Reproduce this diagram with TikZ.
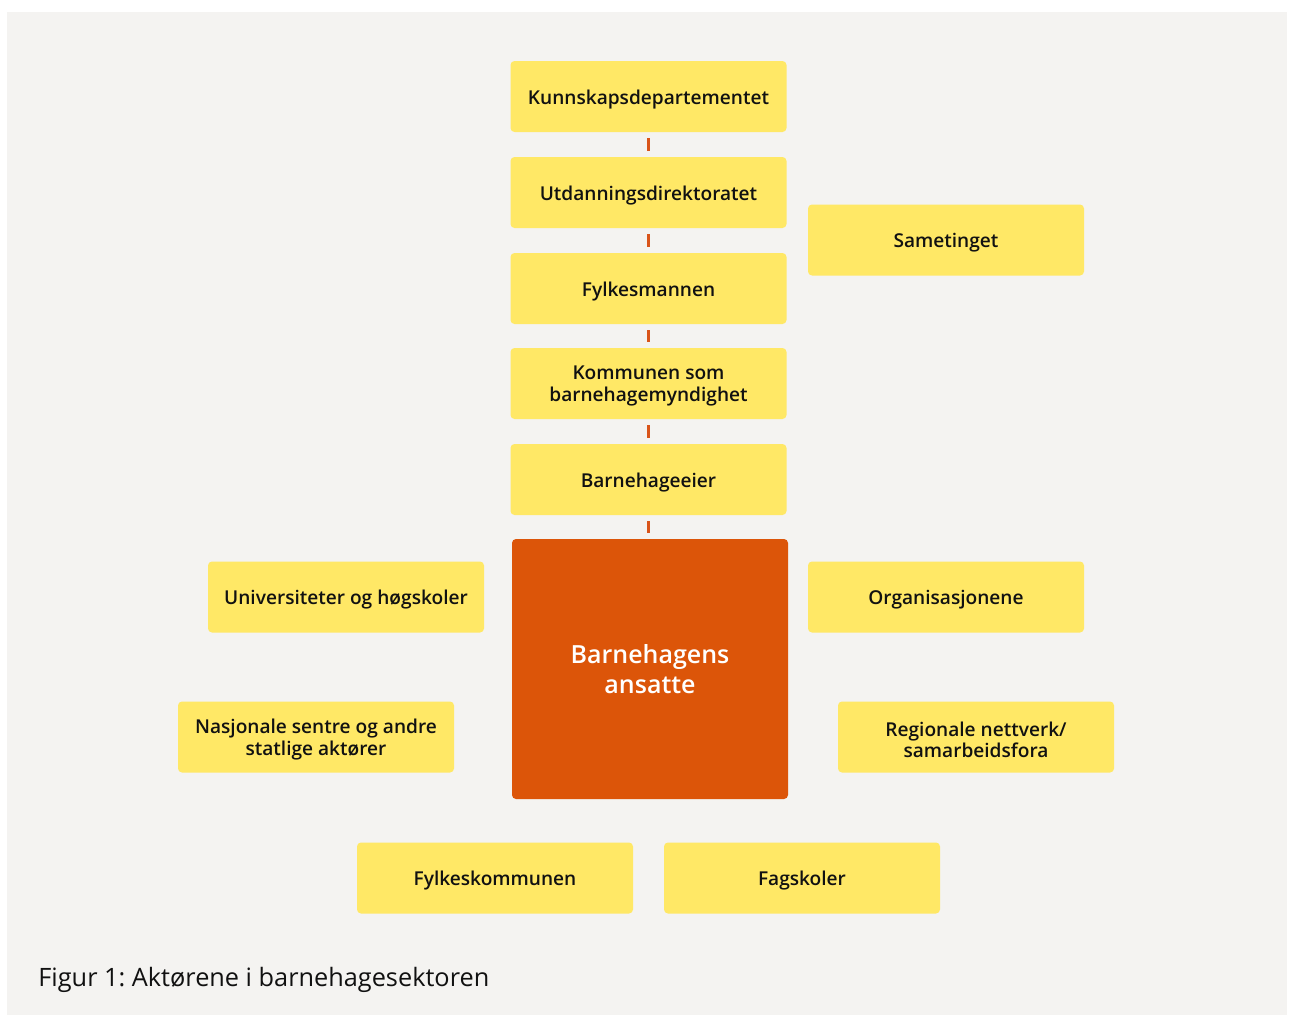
\documentclass[tikz,border=0pt]{standalone}
\usepackage{fontspec}
\IfFontExistsTF{Open Sans Semibold}{%
  \setmainfont{Open Sans}[BoldFont={Open Sans Semibold}]}{%
  \IfFontExistsTF{OpenSans-Semibold}{%
    \setmainfont{Open Sans}[BoldFont={OpenSans-Semibold}]}{%
    \IfFontExistsTF{OpenSans-SemiBold}{%
      \setmainfont{Open Sans}[BoldFont={OpenSans-SemiBold}]}{%
      \setmainfont{Open Sans}}}}
\frenchspacing
\begin{document}
\begin{tikzpicture}[x=0.5pt,y=-0.5pt,
  ytext/.style={inner sep=0pt,yshift=-1.4pt,align=center,font=\fontsize{9.55}{10.9}\selectfont\bfseries,text=textdark},
  ybox/.style={draw=none,fill=boxyellow,rounded corners=2pt,minimum width=138pt,minimum height=35.5pt,inner sep=0pt,label={[ytext]center:#1}},
  obox/.style={draw=none,fill=boxorange,rounded corners=2pt,minimum width=138pt,minimum height=130pt,inner sep=0pt,align=center,font=\fontsize{12.5}{15}\selectfont\bfseries,text=white},
  link/.style={draw=linkorange,line width=1.5pt,shorten <=2.8pt,shorten >=2.8pt}]
\definecolor{bg}{HTML}{F4F3F1}
\definecolor{boxyellow}{HTML}{FFE866}
\definecolor{boxorange}{HTML}{DC5509}
\definecolor{linkorange}{HTML}{D9541A}
\definecolor{textdark}{HTML}{111111}
\useasboundingbox (0,0) rectangle (1290,1017);
\fill[bg] (7,12) rectangle (1287,1015);
\node[ybox={Kunnskapsdepartementet}] (kd) at (648.5,96.5) {};
\node[ybox={Utdanningsdirektoratet}] (ud) at (648.5,192.5) {};
\node[ybox={Fylkesmannen}] (fm) at (648.5,288.5) {};
\node[ybox={Kommunen som\\barnehagemyndighet}] (ko) at (648.5,383.5) {};
\node[ybox={Barnehageeier}] (be) at (648.5,479.5) {};
\node[obox] (ba) at (650,669) {Barnehagens\\ansatte};
\node[ybox={Sametinget}] (st) at (946,240) {};
\node[ybox={Universiteter og høgskoler}] (uh) at (346,597) {};
\node[ybox={Organisasjonene}] (or) at (946,597) {};
\node[ybox={Nasjonale sentre og andre\\statlige aktører}] (na) at (316,737) {};
\node[ybox={Regionale nettverk/\\samarbeidsfora}] (rn) at (976,737) {};
\node[ybox={Fylkeskommunen}] (fk) at (495,878) {};
\node[ybox={Fagskoler}] (fs) at (802,878) {};
\draw[link] (kd.south) -- (ud.north);
\draw[link] (ud.south) -- (fm.north);
\draw[link] (fm.south) -- (ko.north);
\draw[link] (ko.south) -- (be.north);
\draw[link] (be.south) -- (be.south |- ba.north);
\node[anchor=base west,inner sep=0pt,font=\fontsize{12.65}{14}\selectfont,text=textdark] (cap) at (38,986) {Figur 1: Aktørene i barnehagesektoren};
\end{tikzpicture}
\end{document}
